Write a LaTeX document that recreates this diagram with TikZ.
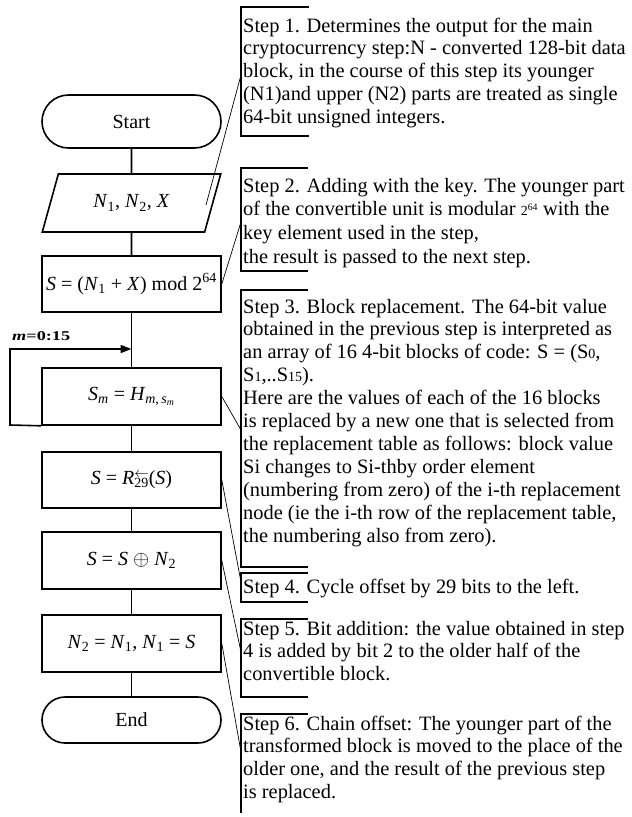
\documentclass[tikz,border=0pt]{standalone}
\usepackage{fontspec}
\setmainfont{Liberation Serif}
\usepackage{graphicx}
\usetikzlibrary{arrows.meta,shapes.geometric}
\newcommand{\myit}[1]{\textit{#1}}
\newcommand{\smallfig}[1]{{\fontsize{14}{14}\selectfont #1}}
\begin{document}
\begin{tikzpicture}[x=1pt,y=-1pt,
  flow/.style={draw, line width=1.6pt, minimum width=179pt, inner sep=0pt,
    font=\fontsize{20}{22}\selectfont},
  conn/.style={line width=1.6pt},
  leader/.style={line width=0.7pt},
  brv/.style={line width=1.5pt},
  brt/.style={line width=2.6pt},
  steptxt/.style={anchor=base west, inner sep=0pt, font=\fontsize{20.4}{22.9}\selectfont}]
\useasboundingbox (0,0) rectangle (632,817);
\fill[white] (0,0) rectangle (632,817);

% flowchart
\node[flow, rounded corners=26.5pt, minimum height=53pt] (start) at (131.5,121.5) {Start};
\node[flow, trapezium, trapezium left angle=62.6, trapezium right angle=117.4,
  trapezium stretches=true, minimum height=58pt] (io) at (131.5,203)
  {\myit{N}\textsubscript{1}, \myit{N}\textsubscript{2}, \myit{X}};
\node[flow, minimum height=56pt] (b1) at (131.5,284)
  {\myit{S} = (\myit{N}\textsubscript{1} + \myit{X}) mod 2\textsuperscript{64}};
\node[flow, minimum height=57pt] (b2) at (131.5,396.5)
  {\myit{S}\textsubscript{\myit{m}} = \myit{H}\textsubscript{\myit{m},\,\myit{s}\textsubscript{\myit{m}}}};
\node[flow, minimum height=56pt] (b3) at (131.5,480)
  {\myit{S} = \myit{R}\rlap{\textsuperscript{$\leftarrow$}}\textsubscript{29}(\myit{S})};
\node[flow, minimum height=57pt] (b4) at (131.5,560.5)
  {\myit{S} = \myit{S} $\oplus$ \myit{N}\textsubscript{2}};
\node[flow, minimum height=57pt] (b5) at (131.5,643.5)
  {\myit{N}\textsubscript{2} = \myit{N}\textsubscript{1}, \myit{N}\textsubscript{1} = \myit{S}};
\node[flow, rounded corners=23pt, minimum height=46pt] (end) at (131.5,720) {End};

\draw[conn] (start) -- (io);
\draw[conn] (io) -- (b1);
\draw[conn] (b1) -- (b2);
\draw[conn] (b2) -- (b3);
\draw[conn] (b3) -- (b4);
\draw[conn] (b4) -- (b5);
\draw[conn] (b5) -- (end);

% loop
\coordinate (loopin) at (131.5,349);
\coordinate (loopL) at (10,425);
\draw[conn, -{Triangle[length=11pt,width=8pt]}] (b2.south west) -- (loopL) |- (loopin);
\node[anchor=base west, inner sep=0pt] (mlabel) at (12,340)
  {\scalebox{1.35}[1.0]{\fontsize{13.5}{13.5}\selectfont\bfseries\itshape m\upshape=0:15}};

% brackets
\draw[brv] (241,7) -- (241,136);
\draw[brt] (240.3,7) -- (309,7);
\draw[brt] (240.3,136) -- (309,136);
\draw[brv] (241,168) -- (241,271);
\draw[brt] (240.3,168) -- (308,168);
\draw[brt] (240.3,271) -- (308,271);
\draw[brv] (241,290) -- (241,567);
\draw[brt] (240.3,290) -- (308,290);
\draw[brt] (240.3,567) -- (308,567);
\draw[brv] (241,573) -- (241,602);
\draw[brt] (240.3,573) -- (308,573);
\draw[brt] (240.3,602) -- (308,602);
\draw[brv] (241,619) -- (241,697);
\draw[brt] (240.3,619) -- (308,619);
\draw[brt] (240.3,697) -- (308,697);
\draw[brv] (241,714) -- (241,813);
\draw[brt] (240.3,714) -- (308,714);

% step texts
\node[steptxt] (s1) at (243,32) {\begin{tabular}[t]{@{}l@{}}
Step 1. Determines the output for the main\\
cryptocurrency step:N - converted 128-bit data\\
block, in the course of this step its younger\\
(N1)and upper (N2) parts are treated as single\\
64-bit unsigned integers.\end{tabular}};
\node[steptxt] (s2) at (243,192) {\begin{tabular}[t]{@{}l@{}}
Step 2. Adding with the key. The younger part\\[1pt]
of the convertible unit is modular \smallfig{2\textsuperscript{64}} with the\\[1pt]
key element used in the step,\\[1pt]
the result is passed to the next step.\end{tabular}};
\node[steptxt] (s3) at (243,313) {\begin{tabular}[t]{@{}l@{}}
Step 3. Block replacement. The 64-bit value\\
obtained in the previous step is interpreted as\\
an array of 16 4-bit blocks of code: S = (S\smallfig{0},\\
S\smallfig{1},..S\smallfig{15}).\\
Here are the values of each of the 16 blocks\\
is replaced by a new one that is selected from\\
the replacement table as follows: block value\\
Si changes to Si-thby order element\\
(numbering from zero) of the i-th replacement\\
node (ie the i-th row of the replacement table,\\
the numbering also from zero).\end{tabular}};
\node[steptxt] (s4) at (243,593) {Step 4. Cycle offset by 29 bits to the left.};
\node[steptxt] (s5) at (243,635) {\begin{tabular}[t]{@{}l@{}}
Step 5. Bit addition: the value obtained in step\\
4 is added by bit 2 to the older half of the\\
convertible block.\end{tabular}};
\node[steptxt] (s6) at (243,730) {\begin{tabular}[t]{@{}l@{}}
Step 6. Chain offset: The younger part of the\\
transformed block is moved to the place of the\\
older one, and the result of the previous step\\
is replaced.\end{tabular}};

% leaders
\coordinate (l1s) at (206,205);
\coordinate (br1) at (241,75);
\coordinate (br2) at (241,222);
\coordinate (br3) at (241,430);
\coordinate (br4) at (241,582);
\coordinate (br5) at (241,652);
\coordinate (br6) at (241,752);
\draw[leader] (l1s) -- (br1);
\draw[leader] (b1.east) -- (br2);
\draw[leader] (b2.east) -- (br3);
\draw[leader] (b3.east) -- (br4);
\draw[leader] (b4.east) -- (br5);
\draw[leader] (b5.east) -- (br6);
\end{tikzpicture}
\end{document}
